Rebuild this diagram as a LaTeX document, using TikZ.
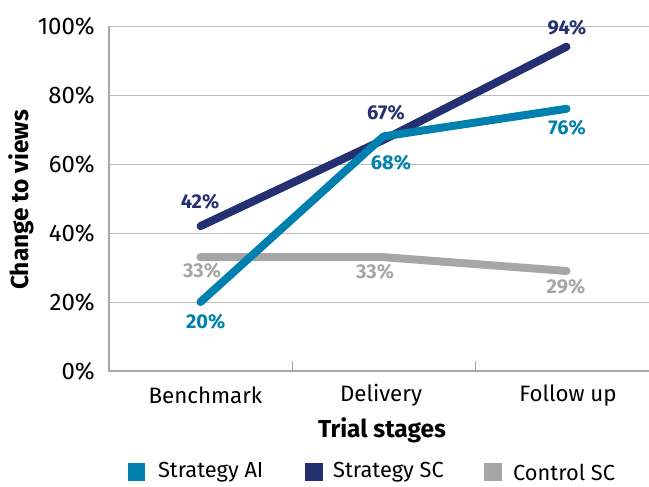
\documentclass[tikz,border=0pt]{standalone}
\usepackage{fontspec}
\setmainfont{Fira Sans}
\definecolor{aiblue}{HTML}{0080AE}
\definecolor{scnavy}{HTML}{24306F}
\definecolor{ctrlgrey}{HTML}{A6A6A6}
\definecolor{gridgrey}{HTML}{BDBDBD}
\begin{document}
\begin{tikzpicture}[x=1pt,y=3.45pt,
	series/.style={line width=8pt,line cap=round,line join=round},
	vallabel/.style={font=\fontsize{20}{20}\selectfont\bfseries,inner sep=0pt},
	ticklabel/.style={font=\fontsize{24}{24}\selectfont,anchor=east,inner sep=0pt},
	catlabel/.style={font=\fontsize{22.3}{22.3}\selectfont,inner sep=0pt},
	axtitle/.style={font=\fontsize{24.5}{24.5}\selectfont\bfseries,inner sep=0pt},
	legtext/.style={font=\fontsize{21.8}{21.8}\selectfont,anchor=west,inner sep=0pt},
	legbox/.style={minimum size=17.5pt,inner sep=0pt}]
	\useasboundingbox (-109,-33.62) rectangle (540,107.54);
	% grid and axes
	\foreach \v in {20,40,60,80,100}
		\draw[gridgrey,line width=1pt] (0,\v)--(540,\v);
	\draw[ctrlgrey,line width=1.2pt] (0,100)--(0,0)--(540,0);
	\foreach \t in {183,366}
		\draw[ctrlgrey,line width=1pt] (\t,0)--(\t,2.9);
	\foreach \v in {0,20,40,60,80,100}
		\node[ticklabel] (tick\v) at (-14,\v) {\v\%};
	% categories
	\node[catlabel] (bench) at (96.5,-6.96) {Benchmark};
	\node[catlabel] (deliv) at (272,-6.96) {Delivery};
	\node[catlabel] (follow) at (459,-6.96) {Follow up};
	\node[axtitle] (xtitle) at (273,-17.1) {Trial stages};
	\node[axtitle,rotate=90] (ytitle) at (-88,49.6) {Change to views};
	% data points
	\coordinate (ai1) at (91.5,20);  \coordinate (ai2) at (274.5,68); \coordinate (ai3) at (457.5,76);
	\coordinate (sc1) at (91.5,42);  \coordinate (sc2) at (274.5,67); \coordinate (sc3) at (457.5,94);
	\coordinate (ct1) at (91.5,33);  \coordinate (ct2) at (274.5,33); \coordinate (ct3) at (457.5,29);
	\draw[series,ctrlgrey] (ct1)--(ct2)--(ct3);
	\draw[series,scnavy] (sc1)--(sc2)--(sc3);
	\draw[series,aiblue] (ai1)--(ai2)--(ai3);
	% value labels
	\node[vallabel,aiblue] (lai1) at (96.7,14.3) {20\%};
	\node[vallabel,aiblue] (lai2) at (282,60.3) {68\%};
	\node[vallabel,aiblue] (lai3) at (458,70.4) {76\%};
	\node[vallabel,scnavy] (lsc1) at (91,49) {42\%};
	\node[vallabel,scnavy] (lsc2) at (277,74.8) {67\%};
	\node[vallabel,scnavy] (lsc3) at (458,99.4) {94\%};
	\node[vallabel,ctrlgrey] (lct1) at (93,29) {33\%};
	\node[vallabel,ctrlgrey] (lct2) at (266,28.7) {33\%};
	\node[vallabel,ctrlgrey] (lct3) at (457,24.4) {29\%};
	% legend
	\node[legbox,fill=aiblue] (legai) at (27.75,-29.3) {};
	\node[legtext] (legaitext) at (48.8,-29.3) {Strategy AI};
	\node[legbox,fill=scnavy] (legsc) at (205,-29.3) {};
	\node[legtext] (legsctext) at (224,-29.3) {Strategy SC};
	\node[legbox,fill=ctrlgrey] (legct) at (383.8,-29.3) {};
	\node[legtext] (legcttext) at (404,-29.3) {Control SC};
\end{tikzpicture}
\end{document}
